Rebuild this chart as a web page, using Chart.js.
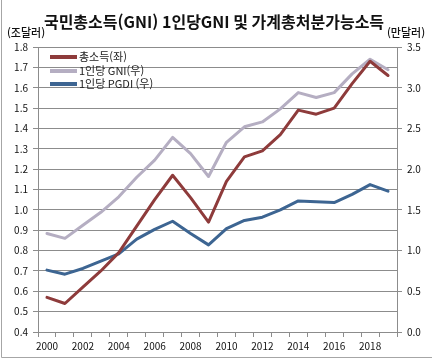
<!DOCTYPE html>
<html lang="ko">
<head>
    <meta charset="UTF-8">
    <title>국민총소득(GNI) 1인당GNI 및 가계총처분가능소득</title>
    <script src="https://cdnjs.cloudflare.com/ajax/libs/Chart.js/4.4.1/chart.umd.min.js"></script>
    <style>
        html, body { margin: 0; padding: 0; background: #fff; }
        #wrap { position: relative; width: 432px; height: 362px; }
    </style>
</head>
<body>
    <div id="wrap"><canvas id="incomeChart" width="432" height="362"></canvas></div>

    <script>
        // 데이터
        const years = ['2000', '2001', '2002', '2003', '2004', '2005', '2006', '2007', '2008', '2009',
                       '2010', '2011', '2012', '2013', '2014', '2015', '2016', '2017', '2018', '2019'];
        // 총소득 (조달러, 좌축)
        const gniTotal = [0.57, 0.54, 0.62, 0.70, 0.79, 0.92, 1.05, 1.17, 1.06, 0.94,
                          1.14, 1.26, 1.29, 1.37, 1.49, 1.47, 1.50, 1.62, 1.73, 1.66];
        // 1인당 GNI (만달러, 우축)
        const gniPerCapita = [1.21, 1.15, 1.31, 1.47, 1.66, 1.90, 2.11, 2.39, 2.19, 1.91,
                              2.33, 2.52, 2.58, 2.74, 2.94, 2.88, 2.94, 3.17, 3.35, 3.22];
        // 1인당 PGDI (만달러, 우축)
        const pgdiPerCapita = [0.76, 0.71, 0.78, 0.87, 0.96, 1.14, 1.26, 1.36, 1.21, 1.07,
                               1.27, 1.37, 1.41, 1.50, 1.61, 1.60, 1.59, 1.69, 1.81, 1.73];
        const seriesNames = ['총소득(좌)', '1인당 GNI(우)', '1인당 PGDI (우)'];
        const seriesColors = ['#8E3B3B', '#B5AEC2', '#3D6592'];
        const titleText = '국민총소득(GNI) 1인당GNI 및 가계총처분가능소득';
        const leftUnit = '(조달러)';
        const rightUnit = '(만달러)';

        const FONT = "'Noto Sans CJK KR', 'Noto Sans', sans-serif";
        const gridColor = '#8C8C8C';

        // 제목, 단위, 범례, 테두리 그리기
        const decorPlugin = {
            id: 'decor',
            afterDraw(chart) {
                const ctx = chart.ctx;
                ctx.save();
                // 테두리
                ctx.strokeStyle = '#A6A6A6';
                ctx.lineWidth = 1;
                ctx.beginPath();
                ctx.moveTo(1.5, 0);
                ctx.lineTo(1.5, 357.5);
                ctx.lineTo(432, 357.5);
                ctx.stroke();

                ctx.fillStyle = '#111';
                ctx.textBaseline = 'middle';
                ctx.textAlign = 'center';
                ctx.font = 'bold 16px ' + FONT;
                ctx.fillText(titleText, 214, 22);

                ctx.font = '500 11px ' + FONT;
                ctx.fillText(leftUnit, 26, 33);
                ctx.fillText(rightUnit, 406, 33);

                // 범례
                ctx.textAlign = 'left';
                ctx.font = '11px ' + FONT;
                const rows = [57, 71, 84];
                seriesNames.forEach((name, i) => {
                    ctx.strokeStyle = seriesColors[i];
                    ctx.lineWidth = 4;
                    ctx.beginPath();
                    ctx.moveTo(50, rows[i]);
                    ctx.lineTo(77, rows[i]);
                    ctx.stroke();
                    ctx.fillStyle = '#222';
                    ctx.fillText(name, 79, rows[i]);
                });
                ctx.restore();
            }
        };

        const ctx = document.getElementById('incomeChart').getContext('2d');
        new Chart(ctx, {
            type: 'line',
            data: {
                labels: years,
                datasets: [
                    { label: seriesNames[0], data: gniTotal, yAxisID: 'y', borderColor: seriesColors[0] },
                    { label: seriesNames[1], data: gniPerCapita, yAxisID: 'y1', borderColor: seriesColors[1] },
                    { label: seriesNames[2], data: pgdiPerCapita, yAxisID: 'y1', borderColor: seriesColors[2] }
                ]
            },
            options: {
                responsive: false,
                animation: false,
                devicePixelRatio: 1,
                layout: { padding: { top: 47, left: 0, right: 0, bottom: 0 } },
                elements: {
                    line: { borderWidth: 3, tension: 0, borderCapStyle: 'round', borderJoinStyle: 'round' },
                    point: { radius: 0 }
                },
                plugins: {
                    legend: { display: false },
                    title: { display: false },
                    tooltip: { enabled: false }
                },
                scales: {
                    x: {
                        offset: true,
                        afterFit(s) { s.height = 30; },
                        grid: { offset: true, drawOnChartArea: false, tickLength: 5, color: gridColor },
                        border: { color: gridColor },
                        ticks: {
                            autoSkip: false, maxRotation: 0, padding: 3, color: '#111',
                            font: { family: FONT, size: 10 },
                            callback(v, i) { return i % 2 === 0 ? this.getLabelForValue(v) : ''; }
                        }
                    },
                    y: {
                        position: 'left',
                        min: 0.4, max: 1.8,
                        afterFit(s) { s.width = 38; },
                        grid: { color: gridColor, tickLength: 5 },
                        border: { color: gridColor },
                        ticks: {
                            stepSize: 0.1, padding: 5, color: '#111',
                            font: { family: FONT, size: 10 },
                            callback(v) { return v.toFixed(1); }
                        }
                    },
                    y1: {
                        position: 'right',
                        min: 0, max: 3.5,
                        afterFit(s) { s.width = 35; },
                        grid: { drawOnChartArea: false, color: gridColor, tickLength: 5 },
                        border: { color: gridColor },
                        ticks: {
                            stepSize: 0.5, padding: 5, color: '#111',
                            font: { family: FONT, size: 10 },
                            callback(v) { return v.toFixed(1); }
                        }
                    }
                }
            },
            plugins: [decorPlugin]
        });
    </script>
</body>
</html>
